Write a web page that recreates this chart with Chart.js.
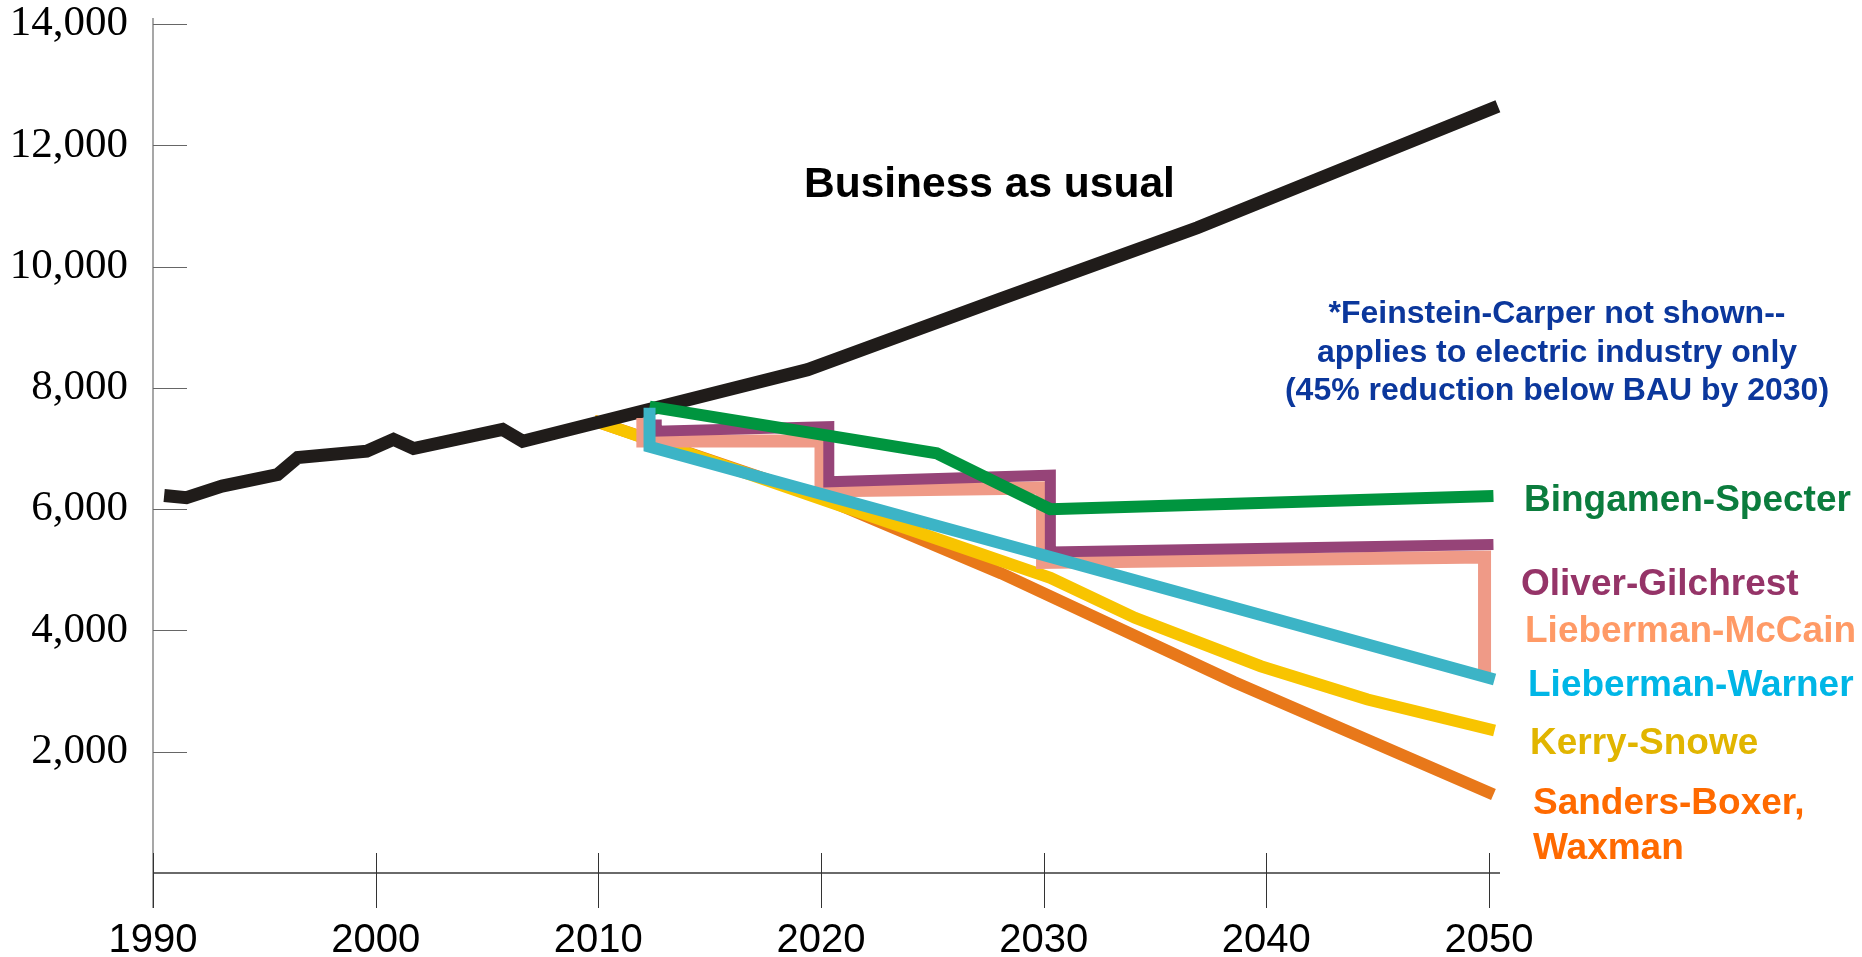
<!DOCTYPE html>
<html>
<head>
<meta charset="utf-8">
<title>Emissions under the climate bills</title>
<script src="https://cdn.jsdelivr.net/npm/chart.js@4.4.1/dist/chart.umd.min.js"></script>
<style>
  html, body { margin: 0; padding: 0; background: #fff; }
  #wrap { width: 1862px; height: 957px; }
</style>
</head>
<body>
<div id="wrap"><canvas id="billsChart" width="1862" height="957"></canvas></div>
<script>
// Axis ticks
const xTickValues = [1990, 2000, 2010, 2020, 2030, 2040, 2050];
const xTickLabels = ['1990', '2000', '2010', '2020', '2030', '2040', '2050'];
const yTickValues = [2000, 4000, 6000, 8000, 10000, 12000, 14000];
const yTickLabels = ['2,000', '4,000', '6,000', '8,000', '10,000', '12,000', '14,000'];

// Business as usual
const bauYears = [1990.5, 1991.5, 1993.1, 1995.6, 1996.5, 1999.6, 2000.8, 2001.7, 2005.7, 2006.6, 2019.4, 2028.1, 2036.9, 2050.4];
const bauValues = [6225, 6190, 6380, 6570, 6850, 6955, 7150, 7000, 7315, 7120, 8300, 9470, 10640, 12645];

// Bingamen-Specter
const bsYears = [2012.3, 2025.2, 2030.3, 2050.2];
const bsValues = [7690, 6920, 6000, 6215];

// Oliver-Gilchrest (steps)
const ogYears = [2012.6, 2012.6, 2020.35, 2020.35, 2030.3, 2030.3, 2050.2, 2050.2];
const ogValues = [7480, 7285, 7360, 6450, 6560, 5295, 5415, 3300];

// Lieberman-McCain (steps)
const lmYears = [2012.0, 2012.0, 2020.0, 2020.0, 2029.95, 2029.95, 2049.8, 2049.8];
const lmValues = [7505, 7125, 7125, 6300, 6350, 5120, 5210, 3300];

// Lieberman-Warner
const lwYears = [2012.3, 2012.3, 2031.7, 2050.25];
const lwValues = [7670, 7030, 5070, 3190];

// Kerry-Snowe
const ksYears = [2009.8, 2020.3, 2030.3, 2034.1, 2039.75, 2044.55, 2050.25];
const ksValues = [7460, 6130, 4868, 4208, 3410, 2861, 2350];

// Sanders-Boxer, Waxman
const sbYears = [2009.8, 2020.3, 2028.1, 2038.55, 2050.2];
const sbValues = [7460, 6150, 4940, 3150, 1295];

const noteLines = [
  '*Feinstein-Carper not shown--',
  'applies to electric industry only',
  '(45% reduction below BAU by 2030)'
];

function toPoints(years, values) {
  return years.map((yr, i) => ({ x: yr, y: values[i] }));
}

function makeLine(label, years, values, color, width, order) {
  return {
    label: label,
    data: toPoints(years, values),
    borderColor: color,
    backgroundColor: color,
    borderWidth: width,
    order: order,
    clip: false,
    fill: false
  };
}

// axis lines and tick marks, placed from the scales
const axesPlugin = {
  id: 'handAxes',
  beforeDatasetsDraw(chart) {
    const ctx = chart.ctx;
    const xs = chart.scales.x;
    const ys = chart.scales.y;
    const x0 = xs.getPixelForValue(1990);
    const y0 = ys.getPixelForValue(0);
    const seg = (a, b, c, d) => { ctx.beginPath(); ctx.moveTo(a, b); ctx.lineTo(c, d); ctx.stroke(); };
    ctx.save();
    ctx.strokeStyle = '#8a8a8a';
    ctx.lineWidth = 1.5;
    seg(x0, ys.getPixelForValue(14000) - 6, x0, y0 + 35);
    ctx.strokeStyle = '#666';
    ctx.lineWidth = 1.2;
    yTickValues.forEach(v => {
      const py = Math.round(ys.getPixelForValue(v)) + 0.5;
      seg(x0, py, x0 + 34, py);
    });
    ctx.strokeStyle = '#6a6a6a';
    ctx.lineWidth = 2;
    seg(x0, y0, xs.getPixelForValue(2050) + 11, y0);
    ctx.strokeStyle = '#333';
    ctx.lineWidth = 1;
    xTickValues.forEach(v => {
      const px = Math.round(xs.getPixelForValue(v)) + 0.5;
      seg(px, y0 - 20, px, y0 + 35);
    });
    ctx.restore();
  }
};

// text notes and series names
const notesPlugin = {
  id: 'notes',
  afterDatasetsDraw(chart) {
    const ctx = chart.ctx;
    const sans = '"Liberation Sans", Arial, sans-serif';
    ctx.save();
    ctx.textBaseline = 'alphabetic';
    ctx.textAlign = 'left';
    ctx.fillStyle = '#000';
    ctx.font = 'bold 42.5px ' + sans;
    ctx.fillText('Business as usual', 804, 197);

    ctx.font = 'bold 32px ' + sans;
    ctx.fillStyle = '#0b379c';
    ctx.textAlign = 'center';
    noteLines.forEach((t, i) => ctx.fillText(t, 1557, 323 + i * 38.5));

    ctx.textAlign = 'left';
    ctx.font = 'bold 37px ' + sans;
    const names = [
      ['Bingamen-Specter', '#0b7c3d', 1524, 511],
      ['Oliver-Gilchrest', '#953468', 1521, 595],
      ['Lieberman-McCain', '#ff9a66', 1525, 642],
      ['Lieberman-Warner', '#00b6e6', 1528, 696],
      ['Kerry-Snowe', '#e1b500', 1530, 754],
      ['Sanders-Boxer,', '#ff6a00', 1533, 814],
      ['Waxman', '#ff6a00', 1533, 859]
    ];
    names.forEach(n => {
      ctx.fillStyle = n[1];
      ctx.fillText(n[0], n[2], n[3]);
    });
    ctx.restore();
  }
};

const ctx = document.getElementById('billsChart').getContext('2d');
const billsChart = new Chart(ctx, {
  type: 'line',
  data: {
    datasets: [
      makeLine('Business as usual', bauYears, bauValues, '#201c1a', 13, 5),
      makeLine('Bingamen-Specter', bsYears, bsValues, '#00953f', 12, 2),
      makeLine('Oliver-Gilchrest', ogYears, ogValues, '#964478', 11, 3),
      makeLine('Lieberman-McCain', lmYears, lmValues, '#ef9a87', 13, 4),
      makeLine('Lieberman-Warner', lwYears, lwValues, '#3cb4c6', 12, 1),
      makeLine('Kerry-Snowe', ksYears, ksValues, '#f8c400', 12, 6),
      makeLine('Sanders-Boxer, Waxman', sbYears, sbValues, '#e8781a', 12, 7)
    ]
  },
  options: {
    responsive: false,
    animation: false,
    devicePixelRatio: 1,
    layout: { padding: { top: 24, right: 373, bottom: 0, left: 0 } },
    plugins: {
      legend: { display: false },
      tooltip: { enabled: false }
    },
    elements: {
      point: { radius: 0, hoverRadius: 0 },
      line: { tension: 0, borderJoinStyle: 'miter', borderCapStyle: 'butt' }
    },
    scales: {
      x: {
        type: 'linear',
        min: 1990,
        max: 2050,
        grid: { display: false, drawTicks: false },
        border: { display: false },
        afterBuildTicks: s => { s.ticks = xTickValues.map(v => ({ value: v })); },
        afterFit: s => { s.height = 84; s.paddingLeft = 0; s.paddingRight = 0; },
        ticks: {
          autoSkip: false,
          maxRotation: 0,
          padding: 44,
          color: '#000',
          font: { family: '"Liberation Sans", Arial, sans-serif', size: 40 },
          callback: (v, i) => xTickLabels[i]
        }
      },
      y: {
        min: 0,
        max: 14000,
        grid: { display: false, drawTicks: false },
        border: { display: false },
        afterBuildTicks: s => { s.ticks = yTickValues.map(v => ({ value: v })); },
        afterFit: s => { s.width = 153; s.paddingTop = 0; s.paddingBottom = 0; },
        ticks: {
          padding: 25,
          color: '#000',
          font: { family: '"Liberation Serif", "Times New Roman", serif', size: 43 },
          callback: (v, i) => yTickLabels[i]
        }
      }
    }
  },
  plugins: [axesPlugin, notesPlugin]
});
</script>
</body>
</html>
